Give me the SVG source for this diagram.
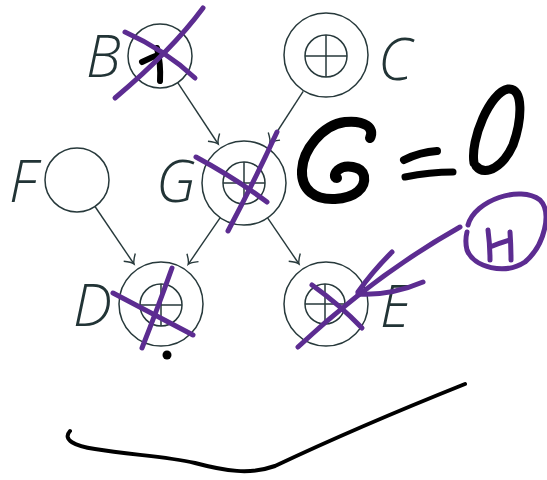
<svg xmlns="http://www.w3.org/2000/svg" width="547" height="480" viewBox="0 0 547 480">
<style>
.node{fill:#fff;stroke:#27393b;stroke-width:1.5}
.in{fill:none;stroke:#27393b;stroke-width:1.5}
.lbl{font-family:"Open Sans","Liberation Sans",sans-serif;font-style:italic;font-weight:300;font-size:58px;fill:#223436}
.edge{fill:none;stroke:#27393b;stroke-width:1.4;marker-end:url(#arr)}
.pu{fill:none;stroke:#5c2c91;stroke-width:5;stroke-linecap:round;stroke-linejoin:round}
.bk{fill:none;stroke:#000;stroke-linecap:round;stroke-linejoin:round}
</style>
<defs>
<marker id="arr" markerUnits="userSpaceOnUse" markerWidth="20" markerHeight="20" viewBox="-10 -10 20 20" refX="0" refY="0" orient="auto">
<path d="M -8 -7 Q -3 -1 0 0 Q -3 1 -8 7" fill="none" stroke="#27393b" stroke-width="1.4"/>
</marker>
</defs>
<g id="connectors">
<path class="edge" d="M 177.7 82.7 L 218.2 144"/>
<path class="edge" d="M 303.2 91.3 L 269.8 143"/>
<path class="edge" d="M 95 206.5 L 134 264"/>
<path class="edge" d="M 220.2 217.6 L 188.2 264.3"/>
<path class="edge" d="M 267.6 217.8 L 299 264"/>
</g>
<g id="B">
<circle class="node" cx="160" cy="56" r="32"/>
<text class="lbl" x="86" y="77">B</text>
</g>
<g id="C">
<circle class="node" cx="326" cy="55" r="42"/>
<circle class="in" cx="326" cy="56" r="21"/>
<path class="in" d="M 305 56 H 347 M 326 35 V 77"/>
<text class="lbl" x="378" y="80">C</text>
</g>
<g id="F">
<circle class="node" cx="77" cy="180" r="32"/>
<text class="lbl" x="9" y="202">F</text>
</g>
<g id="G">
<circle class="node" cx="244" cy="183" r="42"/>
<circle class="in" cx="244" cy="183" r="21"/>
<path class="in" d="M 223 183 H 265 M 244 162 V 204"/>
<text class="lbl" x="156" y="202">G</text>
</g>
<g id="D">
<circle class="node" cx="161" cy="304" r="42"/>
<circle class="in" cx="161" cy="305" r="21"/>
<path class="in" d="M 140 305 H 182 M 161 284 V 326"/>
<text class="lbl" x="73" y="326">D</text>
</g>
<g id="E">
<circle class="node" cx="326" cy="304" r="42"/>
<circle class="in" cx="325" cy="304" r="20"/>
<path class="in" d="M 305 304 H 345 M 325 284 V 324"/>
<text class="lbl" x="380" y="327">E</text>
</g>
<g id="annotations">
<path class="bk" stroke-width="6" d="M 142 62 Q 152 57 163 53"/>
<path class="bk" stroke-width="6" d="M 157 48 Q 161 64 160 81"/>
<path class="pu" d="M 125 32 Q 165 50 195 78"/>
<path class="pu" d="M 203 8 Q 172 50 115 98"/>
<path class="pu" d="M 196 157 Q 235 178 267 202"/>
<path class="pu" d="M 277 132 Q 255 180 228 231"/>
<path class="pu" d="M 113 293 Q 155 315 193 335"/>
<path class="pu" d="M 172 268 Q 157 310 142 348"/>
<path class="pu" d="M 312 285 Q 340 305 362 328"/>
<path class="pu" d="M 460 227 Q 375 275 298 347"/>
<path class="pu" d="M 392 252 Q 372 272 358 292"/>
<path class="pu" d="M 358 294 Q 390 296 423 282"/>
<path class="pu" d="M 468 225 C 475 200 520 185 540 200 C 552 212 545 245 525 262 C 505 275 474 268 467 250 C 465 242 466 236 467 232"/>
<path class="pu" d="M 488 230 Q 490 245 490 260 M 510 232 Q 511 246 511 260 M 490 247 Q 500 243 510 240"/>
<path class="bk" stroke-width="10" d="M 370 138 C 375 128 365 120 345 122 C 322 125 303 150 302 170 C 301 190 315 200 335 199 C 355 198 366 188 364 176 C 362 166 345 164 338 170 C 334 174 334 178 337 178"/>
<path class="bk" stroke-width="8" d="M 404 160 Q 420 152 437 151"/>
<path class="bk" stroke-width="7" d="M 405 177 Q 430 172 453 172"/>
<path class="bk" stroke-width="9" d="M 474 163 C 470 140 490 92 508 89 C 524 87 522 120 513 145 C 504 165 486 178 476 166"/>
<circle cx="167" cy="355" r="4.5" fill="#000"/>
<path class="bk" stroke-width="4" d="M 70 431 C 62 440 75 446 95 449 C 130 455 165 456 195 463 C 225 471 250 475 275 466 C 330 440 400 410 465 384"/>
</g>
</svg>
